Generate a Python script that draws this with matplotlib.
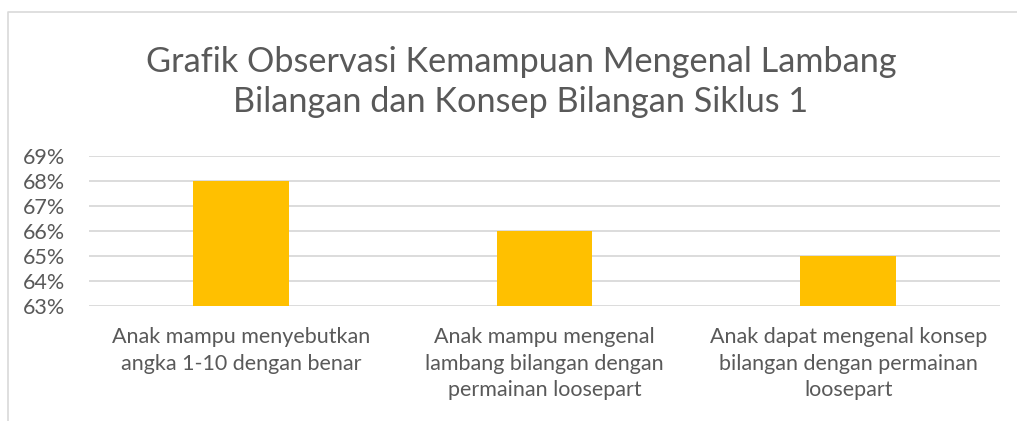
import numpy as np
import matplotlib.pyplot as plt
from matplotlib.lines import Line2D

plt.rcParams['font.family'] = ['Lato', 'DejaVu Sans']

title = 'Grafik Observasi Kemampuan Mengenal Lambang\nBilangan dan Konsep Bilangan Siklus 1'
categories = ['Anak mampu menyebutkan\nangka 1-10 dengan benar',
              'Anak mampu mengenal\nlambang bilangan dengan\npermainan loosepart',
              'Anak dapat mengenal konsep\nbilangan dengan permainan\nloosepart']
values = [68, 66, 65]
yticks = [63, 64, 65, 66, 67, 68, 69]

text_col = '#595959'
grid_col = '#D9D9D9'

fig = plt.figure(figsize=(10.17, 4.21), dpi=100)
ax = fig.add_axes([89/1017, 115/421, 911/1017, 150/421])

x = np.arange(len(values))
ax.bar(x, [v - yticks[0] for v in values], bottom=yticks[0], width=0.315,
       color='#FFC000', zorder=3)

ax.set_xlim(-0.5, 2.5)
ax.set_ylim(yticks[0], yticks[-1])
ax.set_yticks(yticks)
ax.set_yticklabels([f'{t}%' for t in yticks])
ax.set_xticks(x)
ax.set_xticklabels(categories, linespacing=1.42)
ax.tick_params(axis='both', length=0, colors=text_col, labelsize=15.5)
ax.tick_params(axis='x', pad=15)
ax.tick_params(axis='y', pad=17)
ax.yaxis.grid(True, color=grid_col, linewidth=1.3, zorder=0)
for s in ax.spines.values():
    s.set_visible(False)

fig.text(521/1017, 1 - 82/421, title, ha='center', va='center',
         fontsize=24.7, color=text_col, linespacing=1.3)

# chart border (left and top edges visible)
fig.add_artist(Line2D([7.5/1017, 7.5/1017, 1], [0, 1 - 12/421, 1 - 12/421],
                      transform=fig.transFigure, color=grid_col, linewidth=1.2))

fig.savefig('out.png', dpi=100)
